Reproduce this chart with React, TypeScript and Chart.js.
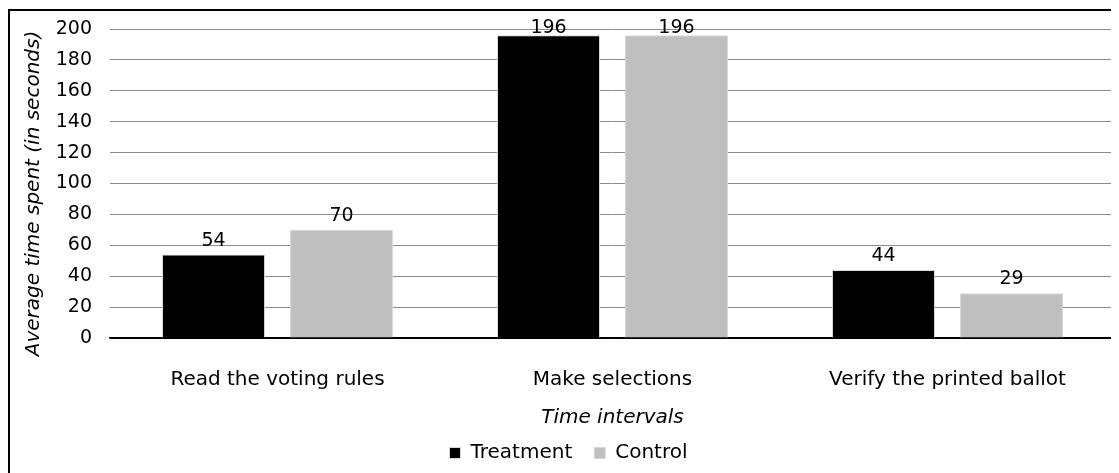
import React, { useEffect, useRef } from "react";
import { Chart, registerables } from "chart.js";

Chart.register(...registerables);

const categories = ["Read the voting rules", "Make selections", "Verify the printed ballot"];
const treatment = [54, 196, 44];
const control = [70, 196, 29];
const seriesNames = ["Treatment", "Control"];
const yTicks = [0, 20, 40, 60, 80, 100, 120, 140, 160, 180, 200];

const FONT = "DejaVu Sans";

const valueLabels = {
  id: "valueLabels",
  afterDatasetsDraw(chart: any) {
    const ctx = chart.ctx;
    const top = chart.chartArea.top;
    ctx.save();
    ctx.font = `19px '${FONT}'`;
    ctx.fillStyle = "#000";
    ctx.textAlign = "center";
    ctx.textBaseline = "alphabetic";
    chart.data.datasets.forEach((ds: any, di: number) => {
      const meta = chart.getDatasetMeta(di);
      meta.data.forEach((bar: any, i: number) => {
        const y = Math.max(bar.y - 9, top + 4);
        ctx.fillText(String(ds.data[i]), bar.x, y);
      });
    });
    ctx.restore();
  },
};

// Excel centres the vertical axis title slightly lower than the plot area's middle
const yTitleShift = {
  id: "yTitleShift",
  afterLayout(chart: any) {
    chart.scales.y.bottom += 20;
  },
};

export default function App() {
  const ref = useRef<HTMLCanvasElement>(null);
  useEffect(() => {
    if (!ref.current) return;
    const chart = new Chart(ref.current, {
      type: "bar",
      data: {
        labels: categories,
        datasets: [
          {
            label: seriesNames[0],
            data: treatment,
            backgroundColor: "#000000",
            borderColor: "#d9d9d9",
            borderWidth: 1,
            categoryPercentage: 0.764,
            barPercentage: 0.805,
          },
          {
            label: seriesNames[1],
            data: control,
            backgroundColor: "#bfbfbf",
            borderColor: "#d9d9d9",
            borderWidth: 1,
            categoryPercentage: 0.764,
            barPercentage: 0.805,
          },
        ],
      },
      options: {
        responsive: false,
        animation: false,
        layout: { padding: { left: 14, right: 4, top: 21, bottom: 0 } },
        plugins: {
          tooltip: { enabled: false },
          legend: {
            position: "bottom",
            labels: {
              font: { family: FONT, size: 20 },
              color: "#000",
              boxWidth: 11,
              boxHeight: 11,
              padding: 22,
            },
          },
        },
        scales: {
          x: {
            afterFit: (scale: any) => {
              scale.height = 83;
              scale.paddingLeft = 0;
              scale.paddingRight = 0;
            },
            grid: { display: false, drawTicks: false },
            border: { display: true, color: "#000", width: 1.5 },
            ticks: { font: { family: FONT, size: 20 }, color: "#000", padding: 30, maxRotation: 0 },
            title: {
              display: true,
              text: "Time intervals",
              font: { family: FONT, size: 20, style: "italic" },
              color: "#000",
              padding: { top: 0, bottom: -9 },
            },
          },
          y: {
            min: 0,
            max: 200,
            afterFit: (scale: any) => {
              scale.width = 88;
              scale.paddingTop = 11;
              scale.paddingBottom = 11;
            },
            afterBuildTicks: (axis: any) => {
              axis.ticks = yTicks.map((v) => ({ value: v }));
            },
            grid: {
              drawTicks: false,
              color: (c: any) => (c.tick && c.tick.value === 0 ? "#000" : "#8c8c8c"),
              lineWidth: 1,
            },
            border: { display: false },
            ticks: { font: { family: FONT, size: 19 }, color: "#000", padding: 18 },
            title: {
              display: true,
              text: "Average time spent (in seconds)",
              font: { family: FONT, size: 20, style: "italic" },
              color: "#000",
              padding: { top: 0, bottom: 11 },
            },
          },
        },
      },
      plugins: [valueLabels, yTitleShift],
    });
    return () => chart.destroy();
  }, []);
  return (
    <div style={{ position: "relative", width: 1111, height: 465, overflow: "hidden" }}>
      <div
        style={{
          position: "absolute",
          left: 0,
          top: 1,
          width: 1300,
          height: 700,
          borderLeft: "2px solid #000",
          borderTop: "2px solid #000",
          boxSizing: "border-box",
        }}
      />
      <canvas ref={ref} width={1111} height={465} style={{ position: "absolute", left: 0, top: 0 }} />
    </div>
  );
}
